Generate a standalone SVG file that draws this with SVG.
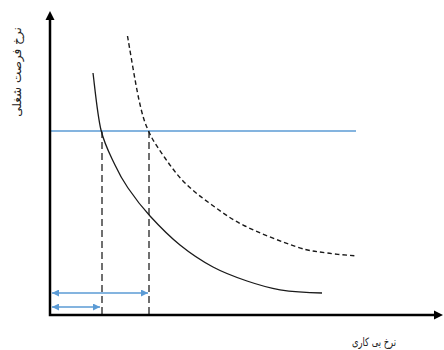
<svg xmlns="http://www.w3.org/2000/svg" width="444" height="350" viewBox="0 0 444 350">
<style>
.axis{stroke:#000;stroke-width:2.5;fill:none}
.blue{stroke:#5B9BD5;stroke-width:1.3;fill:none}
.vdash{stroke:#404040;stroke-width:1.5;stroke-dasharray:7 4;fill:none}
.solid{stroke:#1a1a1a;stroke-width:1.3;fill:none}
.dash{stroke:#1a1a1a;stroke-width:1.4;stroke-dasharray:4.5 3;fill:none}
.lbl{font-family:"DejaVu Sans",sans-serif;fill:#222}
</style>
<defs>
<marker id="ba" viewBox="0 0 10 10" refX="10" refY="5" markerWidth="7" markerHeight="7" markerUnits="userSpaceOnUse" orient="auto-start-reverse">
<path d="M0,0 L10,5 L0,10 z" fill="#5B9BD5"/>
</marker>
</defs>
<g id="connectors">
<path class="vdash" d="M102,131 V315"/>
<path class="vdash" d="M149,131 V315"/>
<path class="blue" d="M50,131 H356"/>
<path class="blue" d="M52,293 H148" marker-start="url(#ba)" marker-end="url(#ba)"/>
<path class="blue" d="M52,307 H100" marker-start="url(#ba)" marker-end="url(#ba)"/>
</g>
<g id="curve-solid">
<path class="solid" d="M93,73 C94.3,82.5 97.3,114.7 101,130 C104.7,145.3 110.5,155.3 115,165 C119.5,174.7 122.2,179.5 128,188 C133.8,196.5 141.3,206.5 150,216 C158.7,225.5 169.5,236.5 180,245 C190.5,253.5 201.8,261 213,267 C224.2,273 235.8,277.2 247,281 C258.2,284.8 268,287.8 280,289.8 C293,291.8 310,292.7 322,293"/>
</g>
<g id="curve-dashed">
<path class="dash" d="M127.5,36 C129.4,46.7 135.5,84.2 139,100 C142.5,115.8 144.2,121.3 148.5,131 C152.8,140.7 158.9,149.3 165,158 C171.1,166.7 177.2,175.2 185,183 C192.8,190.8 202,197.8 212,205 C222,212.2 230.8,219 245,226 C259.2,233 283.3,242.5 297,247 C310.7,251.5 317,251.5 327,253 C337,254.5 352,255.5 357,256"/>
</g>
<g id="axes">
<path class="axis" d="M50,19 V315 H435"/>
<path d="M50,11 L45.5,20 L54.5,20 z" fill="#000"/>
<path d="M443,315 L434,310.5 L434,319.5 z" fill="#000"/>
</g>
<g id="label-y">
<text class="lbl" font-size="12" transform="translate(21,72) rotate(-90)" text-anchor="middle" direction="rtl">نرخ فرصت شغلی</text>
</g>
<g id="label-x">
<text class="lbl" font-size="11.5" x="374" y="346" text-anchor="middle" direction="rtl" textLength="44" lengthAdjust="spacingAndGlyphs">نرخ بی کاری</text>
</g>
</svg>
